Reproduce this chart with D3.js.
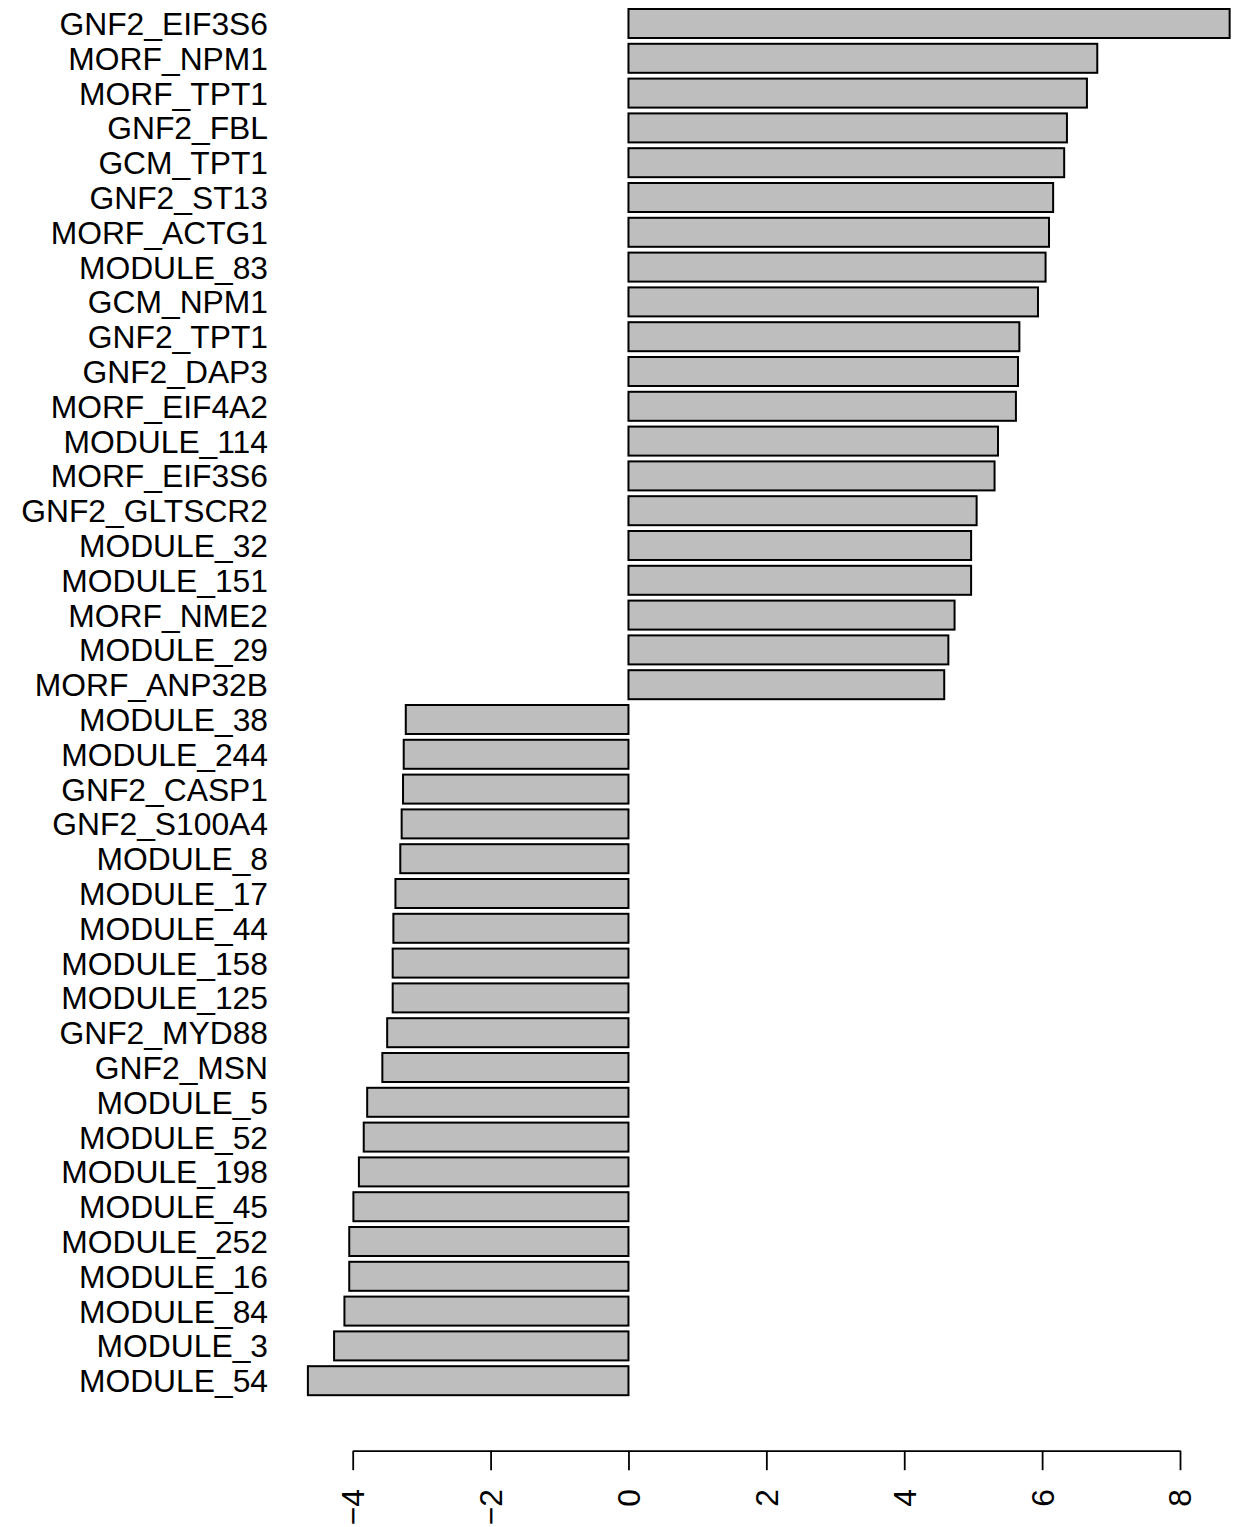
<!DOCTYPE html>
<html>
<head>
<meta charset="utf-8">
<script src="https://cdn.jsdelivr.net/npm/d3@7"></script>
<style>
  html, body { margin: 0; padding: 0; background: #ffffff; }
  svg { display: block; }
  text { font-family: "Liberation Sans", Arial, Helvetica, sans-serif; fill: #000; }
</style>
</head>
<body>
<svg id="chart" width="1234" height="1527"></svg>
<script>
const categories = [
  "GNF2_EIF3S6","MORF_NPM1","MORF_TPT1","GNF2_FBL","GCM_TPT1","GNF2_ST13","MORF_ACTG1","MODULE_83",
  "GCM_NPM1","GNF2_TPT1","GNF2_DAP3","MORF_EIF4A2","MODULE_114","MORF_EIF3S6","GNF2_GLTSCR2","MODULE_32",
  "MODULE_151","MORF_NME2","MODULE_29","MORF_ANP32B","MODULE_38","MODULE_244","GNF2_CASP1","GNF2_S100A4",
  "MODULE_8","MODULE_17","MODULE_44","MODULE_158","MODULE_125","GNF2_MYD88","GNF2_MSN","MODULE_5",
  "MODULE_52","MODULE_198","MODULE_45","MODULE_252","MODULE_16","MODULE_84","MODULE_3","MODULE_54"
];
const values = [
  8.72, 6.80, 6.65, 6.36, 6.32, 6.16, 6.10, 6.05,
  5.94, 5.67, 5.65, 5.62, 5.36, 5.31, 5.05, 4.97,
  4.97, 4.73, 4.64, 4.58, -3.23, -3.26, -3.27, -3.29,
  -3.31, -3.38, -3.41, -3.42, -3.42, -3.50, -3.57, -3.79,
  -3.84, -3.91, -3.99, -4.05, -4.05, -4.12, -4.27, -4.65
];
const tickValues = [-4, -2, 0, 2, 4, 6, 8];

const svg = d3.select("#chart");
const data = categories.map((c, i) => ({ name: c, value: values[i] }));

const x = d3.scaleLinear().domain([-4, 8]).range([352.7, 1180]);
const y = d3.scaleBand().domain(categories).range([9, 1395.2]).paddingInner(1/6).paddingOuter(0);

// bars
svg.append("g").selectAll("rect").data(data).join("rect")
  .attr("x", d => Math.min(x(0), x(d.value)))
  .attr("y", d => y(d.name))
  .attr("width", d => Math.abs(x(d.value) - x(0)))
  .attr("height", y.bandwidth())
  .attr("fill", "#bebebe")
  .attr("stroke", "#000")
  .attr("stroke-width", 2);

// category labels
svg.append("g").selectAll("text").data(data).join("text")
  .attr("x", 268)
  .attr("y", d => y(d.name) + y.bandwidth() / 2)
  .attr("dy", "0.36em")
  .attr("text-anchor", "end")
  .style("font-size", "31.8px")
  .text(d => d.name);

// x axis
const axis = d3.axisBottom(x).tickValues(tickValues).tickSize(19.5).tickSizeOuter(0).tickFormat("");
const ga = svg.append("g").attr("transform", "translate(0,1450.7)").call(axis);
ga.select(".domain").attr("stroke", "#000").attr("stroke-width", 1.8);
ga.selectAll(".tick line").attr("stroke", "#000").attr("stroke-width", 1.8);

const fmt = d3.format("d");
svg.append("g").selectAll("text").data(tickValues).join("text")
  .attr("transform", d => `translate(${x(d)},1489) rotate(-90)`)
  .attr("dy", "0.36em")
  .attr("text-anchor", "end")
  .style("font-size", "31.8px")
  .text(d => fmt(d));
</script>
</body>
</html>
